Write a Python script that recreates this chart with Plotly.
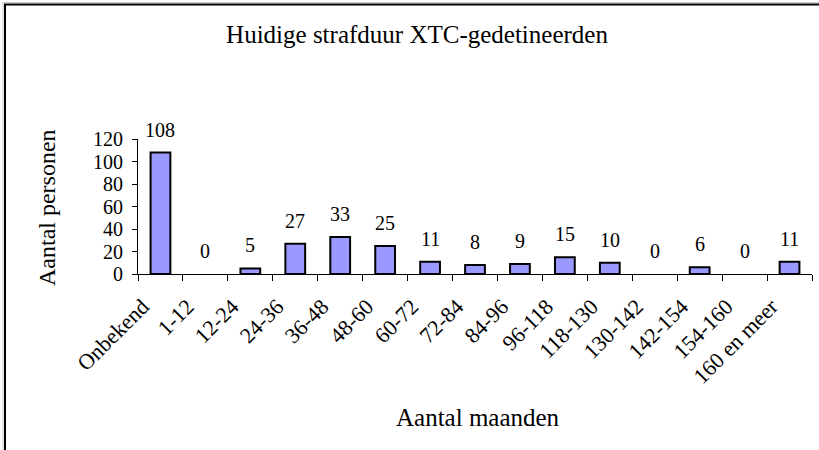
import plotly.graph_objects as go

categories = ["Onbekend", "1-12", "12-24", "24-36", "36-48", "48-60", "60-72", "72-84",
              "84-96", "96-118", "118-130", "130-142", "142-154", "154-160", "160 en meer"]
values = [108, 0, 5, 27, 33, 25, 11, 8, 9, 15, 10, 0, 6, 0, 11]
y_ticks = [0, 20, 40, 60, 80, 100, 120]

title_text = "Huidige strafduur XTC-gedetineerden"
x_title = "Aantal maanden"
y_title = "Aantal personen"

FONT = "Liberation Serif"
W, H = 819, 450
L, R, T, B = 138, 7, 139, 176
pw, ph = W - L - R, H - T - B

def px_x(px):
    return (px - L) / pw

def px_y(py):
    return (H - B - py) / ph

fig = go.Figure()
fig.add_trace(go.Bar(
    x=categories, y=values,
    marker=dict(color="#9999FF",
                line=dict(color="#000000", width=[2 if v > 0 else 0 for v in values])),
    hoverinfo="skip",
))

for c, v in zip(categories, values):
    fig.add_annotation(x=c, y=v, text=str(v), showarrow=False, yanchor="bottom",
                       yshift=10, font=dict(family=FONT, size=20, color="#000"))

shapes = [
    dict(type="line", xref="paper", yref="paper", x0=px_x(3), x1=px_x(3), y0=px_y(2.5), y1=px_y(H + 5),
         line=dict(color="#c8c8c8", width=1)),
    dict(type="line", xref="paper", yref="paper", x0=px_x(2.5), x1=px_x(W + 5), y0=px_y(2.5), y1=px_y(2.5),
         line=dict(color="#c8c8c8", width=1)),
    dict(type="line", xref="paper", yref="paper", x0=px_x(5), x1=px_x(5), y0=px_y(4.5), y1=px_y(H + 5),
         line=dict(color="#000000", width=2)),
    dict(type="line", xref="paper", yref="paper", x0=px_x(4), x1=px_x(W + 5), y0=px_y(4.5), y1=px_y(4.5),
         line=dict(color="#000000", width=2)),
]

fig.update_layout(
    width=W, height=H,
    margin=dict(l=L, r=R, t=T, b=B),
    paper_bgcolor="white", plot_bgcolor="white",
    showlegend=False,
    bargap=0.56,
    shapes=shapes,
    font=dict(family=FONT, color="#000"),
    title=dict(text=title_text, x=(417 - L) / pw, xref="paper", xanchor="center",
               y=1 - 34 / H, yanchor="middle", font=dict(family=FONT, size=25, color="#000")),
    annotations=list(fig.layout.annotations) + [
        dict(text=x_title, xref="paper", yref="paper", x=px_x(478), y=px_y(418),
             showarrow=False, xanchor="center", yanchor="middle",
             font=dict(family=FONT, size=25, color="#000")),
        dict(text=y_title, xref="paper", yref="paper", x=px_x(47), y=px_y(208),
             showarrow=False, xanchor="center", yanchor="middle", textangle=-90,
             font=dict(family=FONT, size=24, color="#000")),
    ],
)

fig.update_xaxes(
    type="category", tickangle=-45, tickson="boundaries", ticks="outside", ticklen=6,
    tickcolor="#000", tickwidth=1, showline=True, linecolor="#000", linewidth=1,
    showgrid=False, tickfont=dict(family=FONT, size=22, color="#000"),
    ticklabelstandoff=10, ticklabelshift=-18,
)
fig.update_yaxes(
    range=[0, 120], tickvals=y_ticks, ticks="outside", ticklen=5, tickcolor="#000",
    tickwidth=1, showline=True, linecolor="#000", linewidth=1, showgrid=False,
    zeroline=False, tickfont=dict(family=FONT, size=20, color="#000"),
    ticklabelstandoff=5,
)

fig.write_html("out.html", config={"displayModeBar": False},
               post_script="document.body.style.margin='0';document.body.style.overflow='hidden';")
